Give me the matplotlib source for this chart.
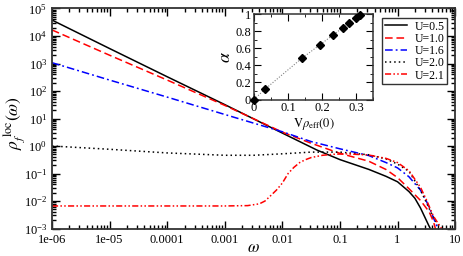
#!/usr/bin/env python3

import matplotlib
matplotlib.use("Agg")
import matplotlib.pyplot as plt
from matplotlib.ticker import LogLocator, MultipleLocator, FixedLocator, NullFormatter

plt.rcParams["font.family"] = ["Liberation Serif", "DejaVu Serif"]
plt.rcParams["mathtext.fontset"] = "stix"

# U=0.5 (black solid)
w_u05 = [1e-6, 1e-5, 1e-4, 1e-3, 1e-2, 0.04, 0.1, 0.32, 0.63, 1.0, 1.58, 2.0, 2.5, 3.0, 3.5, 3.8]
rho_u05 = [3.8e4, 3.5e3, 330, 32, 2.95, 0.71, 0.32, 0.14, 0.079, 0.05, 0.022, 0.0126, 0.0056,
           0.0025, 0.00126, 0.0009]

# U=1.0 (red dashed)
w_u10 = [1e-6, 1e-5, 1e-4, 1e-3, 1e-2, 0.0316, 0.1, 0.316, 0.63, 1.0, 1.58, 2.5, 3.55, 4.2, 4.6]
rho_u10 = [1.66e4, 2.0e3, 250, 30, 3.2, 1.26, 0.54, 0.28, 0.14, 0.071, 0.028, 0.0105, 0.004,
           0.0018, 0.0009]

# U=1.6 (blue dash-dot)
w_u16 = [1e-6, 1e-5, 1e-4, 1e-3, 1e-2, 0.0316, 0.1, 0.316, 0.63, 1.0, 1.58, 2.5, 3.16, 4.0, 5.0]
rho_u16 = [1070, 250, 60, 14, 3.3, 1.45, 0.79, 0.45, 0.25, 0.16, 0.076, 0.025, 0.01, 0.0032,
           0.001]

# U=2.0 (black dotted)
w_u20 = [1e-6, 1e-5, 1e-4, 1e-3, 3.16e-3, 1e-2, 0.0316, 0.1, 0.316, 0.63, 1.0, 1.58, 2.5,
         3.16, 4.2, 5.6]
rho_u20 = [1.0, 0.76, 0.56, 0.46, 0.46, 0.52, 0.6, 0.6, 0.48, 0.34, 0.22, 0.12, 0.025, 0.0089,
           0.0025, 0.001]

# U=2.1 (red dash-dot-dot)
w_u21 = [1e-6, 1e-4, 1e-3, 2.5e-3, 4e-3, 5e-3, 6.3e-3, 7.9e-3, 1e-2, 1.26e-2, 1.58e-2, 2e-2,
         2.5e-2, 3.16e-2, 5e-2, 7.9e-2, 0.126, 0.316, 0.63, 1.0, 1.58, 2.5, 3.16, 4.2, 5.8]
rho_u21 = [6.6e-3, 6.6e-3, 6.6e-3, 6.8e-3, 7.9e-3, 0.01, 0.0158, 0.025, 0.045, 0.1, 0.166,
           0.25, 0.316, 0.38, 0.46, 0.5, 0.52, 0.47, 0.355, 0.25, 0.126, 0.0316, 0.0112,
           0.0028, 0.001]

# inset: alpha vs V*rho_eff(0)
v_rho = [0.0, 0.032, 0.14, 0.194, 0.231, 0.261, 0.28, 0.30, 0.313]
alpha = [0.0, 0.12, 0.48, 0.64, 0.75, 0.84, 0.89, 0.95, 0.99]

x_ticks = [1e-6, 1e-5, 1e-4, 1e-3, 1e-2, 1e-1, 1, 10]
x_ticklabels = ["1e-06", "1e-05", "0.0001", "0.001", "0.01", "0.1", "1", "10"]

fig = plt.figure(figsize=(4.63, 2.56), dpi=100)
ax = fig.add_axes([0.1123, 0.1074, 0.8707, 0.8594])

ax.plot(w_u05, rho_u05, color="black", lw=1.1, label="U=0.5")
ax.plot(w_u10, rho_u10, color="red", lw=1.1, dashes=(5, 2.5), label="U=1.0")
ax.plot(w_u16, rho_u16, color="blue", lw=1.1, dashes=(5, 2, 1.2, 2), label="U=1.6")
ax.plot(w_u20, rho_u20, color="black", lw=1.1, dashes=(1, 2), label="U=2.0")
ax.plot(w_u21, rho_u21, color="red", lw=1.1, dashes=(4, 1.5, 1, 1.5, 1, 1.5), label="U=2.1")

ax.set_xscale("log")
ax.set_yscale("log")
ax.set_xlim(1e-6, 10)
ax.set_ylim(1e-3, 1e5)
ax.xaxis.set_major_locator(FixedLocator(x_ticks))
ax.set_xticklabels(x_ticklabels)
ax.xaxis.set_minor_locator(LogLocator(base=10, subs=range(2, 10), numticks=20))
ax.xaxis.set_minor_formatter(NullFormatter())
ax.yaxis.set_major_locator(LogLocator(base=10, numticks=20))
ax.yaxis.set_minor_locator(LogLocator(base=10, subs=range(2, 10), numticks=20))
ax.yaxis.set_minor_formatter(NullFormatter())
ax.tick_params(which="both", direction="in", top=True, right=True, labelsize=9, width=1)
ax.tick_params(axis="x", pad=4)
ax.tick_params(which="major", length=6)
ax.tick_params(which="minor", length=3)
for s in ax.spines.values():
    s.set_linewidth(1.3)
    s.set_color("#333333")

ax.set_xlabel(r"$\omega$", fontsize=12)
ax.xaxis.set_label_coords(0.5, -0.052)
ax.set_ylabel(r"$\rho_f^{\ \mathrm{loc}}(\omega)$", fontsize=12.5)
ax.yaxis.set_label_coords(-0.062, 0.48)

leg = ax.legend(loc="upper right", bbox_to_anchor=(0.98, 0.957), fontsize=8.5,
                frameon=True, fancybox=False, handlelength=1.9, labelspacing=0.02,
                borderpad=0.22, handletextpad=0.6, borderaxespad=0)
leg.get_frame().set_edgecolor("black")
leg.get_frame().set_linewidth(1.0)

# inset
ins = fig.add_axes([0.5486, 0.6113, 0.257, 0.334])
ins.plot(v_rho, alpha, color="gray", lw=0.8, dashes=(1, 1.5),
         marker="D", markersize=4.5, markerfacecolor="black", markeredgecolor="black",
         clip_on=False, zorder=5)
ins.set_xlim(0, 0.35)
ins.set_ylim(0, 1)
ins.xaxis.set_minor_locator(MultipleLocator(0.05))
ins.yaxis.set_minor_locator(MultipleLocator(0.1))
ins.set_xticks([0, 0.1, 0.2, 0.3])
ins.set_xticklabels(["0", "0.1", "0.2", "0.3"])
ins.set_yticks([0, 0.2, 0.4, 0.6, 0.8, 1.0])
ins.set_yticklabels(["0", "0.2", "0.4", "0.6", "0.8", "1"])
ins.tick_params(which="both", direction="in", top=True, right=True, labelsize=9, pad=2)
ins.tick_params(which="major", length=5)
ins.tick_params(which="minor", length=2.5)
for s in ins.spines.values():
    s.set_linewidth(1.1)
    s.set_color("#333333")
ins.set_xlabel(r"$\mathrm{V}\rho_{\mathrm{eff}}(0)$", fontsize=9, labelpad=1)
ins.set_ylabel(r"$\alpha$", fontsize=13, labelpad=1)

fig.savefig("out.png", dpi=100)
